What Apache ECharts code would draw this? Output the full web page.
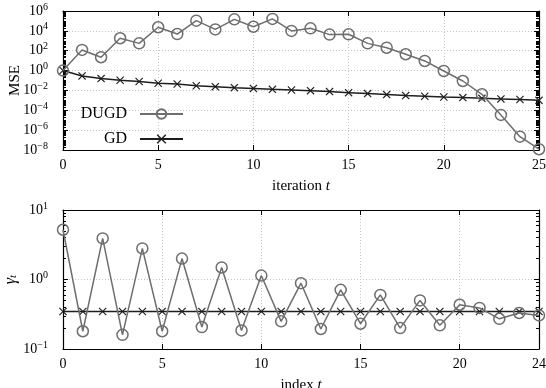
<!DOCTYPE html>
<html><head><meta charset="utf-8">
<script src="https://cdn.jsdelivr.net/npm/echarts@6/dist/echarts.min.js"></script>
<style>html,body{margin:0;padding:0;background:#fff}#c{width:546px;height:388px}</style>
</head><body><div id="c"></div>
<script>
// ---- data ----
const iterT = [0,1,2,3,4,5,6,7,8,9,10,11,12,13,14,15,16,17,18,19,20,21,22,23,24,25];
const mseDUGD = [1, 120, 22, 1.8e3, 5.5e2, 2.3e4, 4.8e3, 1.07e5, 1.4e4, 1.45e5, 2.6e4, 1.6e5, 9.8e3, 1.8e4, 4.2e3, 4.5e3, 5.5e2, 2.0e2, 44, 9.3, 0.91, 0.089, 4.1e-3, 3.4e-5, 2.2e-7, 1.2e-8];
const mseGD = [1, 0.29, 0.155, 0.105, 0.078, 0.052, 0.045, 0.030, 0.024, 0.019, 0.016, 0.0129, 0.0112, 0.0095, 0.0076, 0.0060, 0.0048, 0.0038, 0.0030, 0.0026, 0.0022, 0.0019, 0.0016, 0.0014, 0.0012, 0.0010];
const indexT = [0,1,2,3,4,5,6,7,8,9,10,11,12,13,14,15,16,17,18,19,20,21,22,23,24];
const gammaDUGD = [5.2, 0.18, 3.9, 0.16, 2.8, 0.18, 2.0, 0.207, 1.49, 0.185, 1.14, 0.25, 0.885, 0.194, 0.71, 0.231, 0.60, 0.20, 0.50, 0.219, 0.433, 0.39, 0.272, 0.33, 0.304];
const gammaGD = [0.347,0.347,0.347,0.347,0.347,0.347,0.347,0.347,0.347,0.347,0.347,0.347,0.347,0.347,0.347,0.347,0.347,0.347,0.347,0.347,0.347,0.347,0.347,0.347,0.347];
const seriesNames = ['DUGD', 'GD'];
const xNames = ['iteration', 'index'];

// ---- style ----
const FONT = 'Liberation Serif';
const GRAY = '#6e6e6e', DARK = '#1e1e1e';
const CROSS = 'path://M0,1L1,0L5,4L9,0L10,1L6,5L10,9L9,10L5,6L1,10L0,9L4,5Z';

function supFmt(v) {
  const e = Math.round(Math.log10(v));
  return '{b|10}{s|' + (e < 0 ? '\u2212' + (-e) : e) + '}';
}
const richSup = {
  b: { fontFamily: FONT, fontSize: 14, color: '#000' },
  s: { fontFamily: FONT, fontSize: 10, color: '#000', padding: [0, 0, 8, 0] }
};

function pairs(xs, ys) { return xs.map((x, i) => [x, ys[i]]); }

function xAxes(gi, max, name) {
  const common = {
    gridIndex: gi, type: 'value', min: 0, max: max, interval: 5,
    axisLine: { show: true, lineStyle: { color: '#000', width: 1.2 } },
    axisTick: { show: true, inside: true, length: 5, lineStyle: { color: '#000', width: 1 } },
  };
  return [
    Object.assign({}, common, {
      position: 'bottom',
      axisLabel: { show: true, margin: 8, fontFamily: FONT, fontSize: 14, color: '#000', showMaxLabel: true },
      splitLine: { show: true, lineStyle: { color: '#c4c4c4', type: [1, 2], width: 1 } },
      name: name + ' {it|t}', nameLocation: 'middle', nameGap: 29, nameMoveOverlap: false,
      nameTextStyle: { fontFamily: FONT, fontSize: 15, color: '#000',
        rich: { it: { fontFamily: FONT, fontStyle: 'italic', fontSize: 15, color: '#000' } } }
    }),
    Object.assign({}, common, {
      position: 'top', axisLabel: { show: false }, splitLine: { show: false }
    })
  ];
}

function yAxes(gi, lo, hi, interval, name, nameGap, nameRich) {
  const base = { gridIndex: gi, type: 'log', logBase: 10, min: Math.pow(10, lo), max: Math.pow(10, hi) };
  const majors = [], minors = [];
  for (let e = lo; e <= hi; e++) {
    if ((e - lo) % interval === 0) majors.push(Math.pow(10, e)); else minors.push(Math.pow(10, e));
    if (e < hi) for (let m = 2; m <= 9; m++) minors.push(m * Math.pow(10, e));
  }
  return [
    Object.assign({}, base, {
      position: 'left', interval: interval,
      axisLine: { show: true, lineStyle: { color: '#000', width: 1.2 } },
      axisTick: { show: true, inside: true, length: 5, customValues: majors, lineStyle: { color: '#000', width: 1 } },
      axisLabel: { show: true, margin: 15, customValues: majors, formatter: supFmt, rich: richSup },
      splitLine: { show: true, lineStyle: { color: '#c4c4c4', type: [1, 2], width: 1 } },
      name: name, nameLocation: 'middle', nameGap: nameGap, nameRotate: 90, nameMoveOverlap: false,
      nameTextStyle: { fontFamily: FONT, fontSize: 15, color: '#000', rich: nameRich }
    }),
    Object.assign({}, base, {
      position: 'left', axisLine: { show: false },
      axisTick: { show: true, inside: true, length: 3, customValues: minors, lineStyle: { color: '#000', width: 1 } },
      axisLabel: { show: false }, splitLine: { show: false }
    }),
    Object.assign({}, base, {
      position: 'right', axisLine: { show: true, lineStyle: { color: '#000', width: 1.2 } },
      axisTick: { show: true, inside: true, length: 5, customValues: majors, lineStyle: { color: '#000', width: 1 } },
      axisLabel: { show: false }, splitLine: { show: false }
    }),
    Object.assign({}, base, {
      position: 'right', axisLine: { show: false },
      axisTick: { show: true, inside: true, length: 3, customValues: minors, lineStyle: { color: '#000', width: 1 } },
      axisLabel: { show: false }, splitLine: { show: false }
    })
  ];
}

function dugdSeries(xi, yi, data) {
  return {
    name: seriesNames[0], type: 'line', xAxisIndex: xi, yAxisIndex: yi, data: data,
    symbol: 'circle', symbolSize: 11, showAllSymbol: true,
    lineStyle: { color: GRAY, width: 1.5 },
    itemStyle: { color: 'rgba(0,0,0,0)', borderColor: GRAY, borderWidth: 1.5 },
    emphasis: { disabled: true }, z: 3
  };
}
function gdSeries(xi, yi, data) {
  return {
    name: seriesNames[1], type: 'line', xAxisIndex: xi, yAxisIndex: yi, data: data,
    symbol: CROSS, symbolSize: 8, showAllSymbol: true,
    lineStyle: { color: DARK, width: 1.5 },
    itemStyle: { color: DARK },
    emphasis: { disabled: true }, z: 2
  };
}

const chart = echarts.init(document.getElementById('c'), null, { renderer: 'canvas' });
const legendText = { fontFamily: FONT, fontSize: 16, color: '#000', padding: [0, 8, 0, 0] };
const option = {
  animation: false,
  backgroundColor: '#fff',
  textStyle: { fontFamily: FONT },
  grid: [
    { left: 63, right: 7, top: 11, height: 139, outerBoundsMode: 'none', containLabel: false },
    { left: 63, right: 7, top: 210, height: 139, outerBoundsMode: 'none', containLabel: false }
  ],
  xAxis: [].concat(xAxes(0, 25, xNames[0]), xAxes(1, 24, xNames[1])),
  yAxis: [].concat(
    yAxes(0, -8, 6, 2, 'MSE', 40, {}),
    yAxes(1, -1, 1, 1, '{g|\u03b3}{t|t}', 44, {
      g: { fontFamily: FONT, fontStyle: 'italic', fontSize: 16, color: '#000' },
      t: { fontFamily: FONT, fontStyle: 'italic', fontSize: 11, color: '#000', padding: [6, 0, 0, 0] }
    })
  ),
  legend: [
    { data: [seriesNames[0]], orient: 'vertical', align: 'right', right: 546 - 189, top: 101,
      itemWidth: 43, itemHeight: 12, textStyle: legendText },
    { data: [seriesNames[1]], orient: 'vertical', align: 'right', right: 546 - 189, top: 126,
      itemWidth: 43, itemHeight: 12, textStyle: legendText }
  ],
  series: [
    dugdSeries(0, 0, pairs(iterT, mseDUGD)),
    gdSeries(0, 0, pairs(iterT, mseGD)),
    dugdSeries(2, 4, pairs(indexT, gammaDUGD)),
    gdSeries(2, 4, pairs(indexT, gammaGD))
  ]
};
chart.setOption(option);
</script></body></html>
